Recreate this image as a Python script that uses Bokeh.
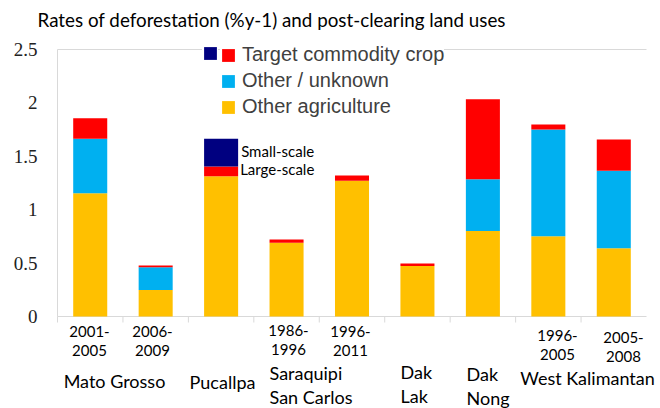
import math
from bokeh.plotting import figure
from bokeh.models import (Range1d, Label, Legend, LegendItem, ColumnDataSource)
from bokeh.embed import file_html
from bokeh.resources import INLINE

# ---------------- data ----------------
title_text = "Rates of deforestation (%y-1) and post-clearing land uses"
periods = ["2001-\n2005", "2006-\n2009", "", "1986-\n1996", "1996-\n2011",
           "", "", "1996-\n2005", "2005-\n2008"]
groups = ["Mato Grosso", "Pucallpa", "Saraquipi\nSan Carlos", "Dak\nLak",
          "Dak\nNong", "West Kalimantan"]
other_agriculture = [1.155, 0.247, 1.314, 0.690, 1.271, 0.474, 0.800, 0.752, 0.640]
other_unknown = [0.509, 0.215, 0.0, 0.0, 0.0, 0.0, 0.486, 0.998, 0.724]
target_large = [0.193, 0.015, 0.090, 0.031, 0.050, 0.022, 0.749, 0.047, 0.293]
target_small = [0.0, 0.0, 0.260, 0.0, 0.0, 0.0, 0.0, 0.0, 0.0]
series_names = ["Other agriculture", "Other / unknown", "Target commodity crop"]
y_ticks = [0, 0.5, 1, 1.5, 2, 2.5]
y_tick_labels = ["0", "0.5", "1", "1.5", "2", "2.5"]
y_max = 2.5

# ---------------- layout (pixels, not data) ----------------
W, H = 660, 408
FL, FR, FT, FB = 57, 646, 49, 316          # axis box in pixels
colors = ["#FFC000", "#00B0F0", "#FF0000", "#000080"]
axis_color = "#D9D9D9"
# period labels: (centre x px, first-line centre y px)
period_px = [(89, 331), (152, 331), None, (288, 330), (350, 331), None, None,
             (557, 335), (623, 336.5)]
period_pitch = 19.3
# group labels: (x px, align, first-line centre y px)
group_px = [(114, "center", 380.5), (222, "center", 381), (269, "left", 372.5),
            (400, "left", 371.5), (466, "left", 373), (587, "center", 377)]
group_pitch = 24

n = len(other_agriculture)
ux = (FR - FL) / n
uy = (FB - FT) / y_max


def dx(px):
    return (px - FL) / ux


def dy(py):
    return (FB - py) / uy


xs = [i + 0.5 for i in range(n)]
src = ColumnDataSource(dict(x=xs, agri=other_agriculture, unk=other_unknown,
                            large=target_large, small=target_small))

p = figure(width=W, height=H, output_backend="svg", toolbar_location=None,
           x_range=Range1d(-FL / ux, n + (W - FR) / ux),
           y_range=Range1d(-(H - FB) / uy, y_max + FT / uy),
           min_border=0)
p.title.visible = False
p.xaxis.visible = False
p.yaxis.visible = False
p.outline_line_color = None
p.xgrid.visible = False
p.ygrid.visible = False
p.background_fill_color = "white"
p.border_fill_color = "white"

# axis box lines: bottom, left, top
p.segment(x0=[0, 0, 0], y0=[0, 0, y_max], x1=[n, 0, n], y1=[0, y_max, y_max],
          line_color=axis_color, line_width=1)
# category separators (ticks)
p.ray(x=list(range(n)), y=[0] * n, length=6, length_units="screen",
      angle=-math.pi / 2, line_color=axis_color, line_width=1)

rs = p.vbar_stack(["agri", "unk", "large", "small"], x="x", width=0.52,
                  fill_color=colors, line_color=None, source=src)
r_agri, r_unk, r_large, r_small = rs

# y tick labels
p.text(x=[0] * len(y_ticks), y=y_ticks, text=y_tick_labels, x_offset=-20,
       text_align="right", text_baseline="middle", text_font="Liberation Sans",
       text_font_size="19px", text_color="#222222")

# title
p.add_layout(Label(x=dx(37), y=dy(19), text=title_text,
                   text_font="Lato", text_font_size="18.8px",
                   text_baseline="middle", text_align="left",
                   text_color="#000000"))


def add_lines(txt, xpx, ypx, pitch, size, align):
    for k, line in enumerate(txt.split("\n")):
        p.add_layout(Label(x=dx(xpx), y=dy(ypx + k * pitch), text=line,
                           text_font="Lato", text_font_size=size,
                           text_align=align, text_baseline="middle",
                           text_color="#000000"))


# category labels
for txt, pos in zip(periods, period_px):
    if pos is None or not txt:
        continue
    add_lines(txt, pos[0], pos[1], period_pitch, "15px", "center")
for txt, pos in zip(groups, group_px):
    add_lines(txt, pos[0], pos[2], group_pitch, "18px", pos[1])

# Pucallpa annotations
ib = 2
p.add_layout(Label(x=xs[ib] + 0.26, x_offset=3, y_offset=2,
                   y=other_agriculture[ib] + target_large[ib] + target_small[ib] / 2,
                   text="Small-scale", text_font="Lato", text_font_size="15px",
                   text_baseline="middle", text_align="left", text_color="#000000"))
p.add_layout(Label(x=xs[ib] + 0.26, x_offset=2, y_offset=2,
                   y=other_agriculture[ib] + target_large[ib] / 2,
                   text="Large-scale", text_font="Lato", text_font_size="15px",
                   text_baseline="middle", text_align="left", text_color="#000000"))

# legends
legA = Legend(items=[LegendItem(label=" ", renderers=[r_small])],
              location=(202, 344), padding=6, margin=0, glyph_width=16,
              glyph_height=16, label_standoff=0, label_width=0, label_height=22,
              label_text_font="Liberation Sans", label_text_font_size="20px",
              border_line_color=None, background_fill_color="white",
              background_fill_alpha=1.0)
legB = Legend(items=[LegendItem(label=series_names[2], renderers=[r_large]),
                     LegendItem(label=series_names[1], renderers=[r_unk]),
                     LegendItem(label=series_names[0], renderers=[r_agri])],
              location=(220, 290), padding=8, margin=0, spacing=3,
              glyph_width=16, glyph_height=16, label_standoff=6,
              label_height=22, label_text_font="Liberation Sans",
              label_text_font_size="20px", label_text_color="#404040",
              border_line_color=None, background_fill_color="white",
              background_fill_alpha=1.0)
p.add_layout(legA)
p.add_layout(legB)

open("out.html", "w").write(file_html(p, INLINE))
